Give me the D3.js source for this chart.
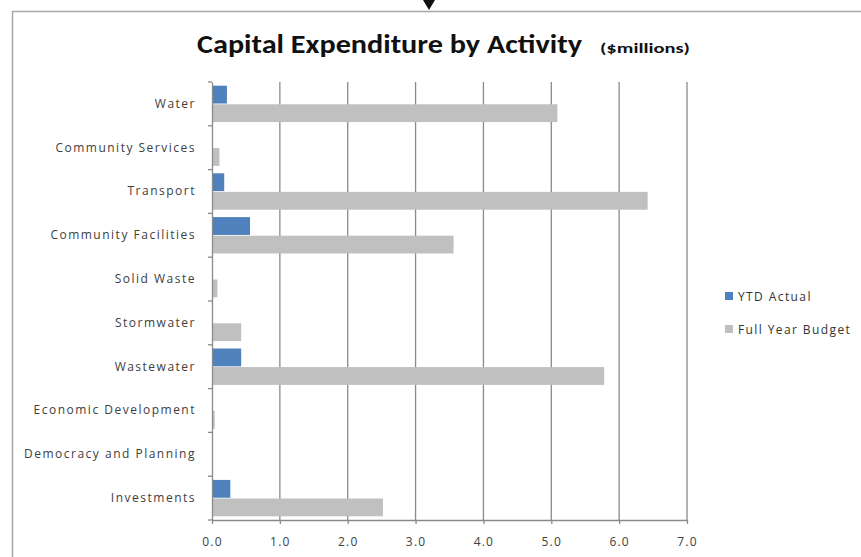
<!DOCTYPE html>
<html><head><meta charset="utf-8">
<script src="https://cdn.jsdelivr.net/npm/d3@7"></script>
<style>
html,body{margin:0;padding:0;background:#fff;}
svg{display:block;}
text{font-family:Carlito,Lato,"Open Sans",sans-serif;}
.lbl{font-family:"Open Sans",Lato,sans-serif;}
</style></head>
<body>
<script>
const categories = ["Water","Community Services","Transport","Community Facilities","Solid Waste","Stormwater","Wastewater","Economic Development","Democracy and Planning","Investments"];
const seriesNames = ["YTD Actual","Full Year Budget"];
const ytdActual = [0.22,0,0.18,0.56,0,0,0.43,0,0,0.27];
const fullYearBudget = [5.09,0.11,6.42,3.56,0.08,0.43,5.78,0.04,0,2.52];
const xTicks = [0,1,2,3,4,5,6,7];
const colors = ["#4F81BD","#C0C0C0"];

const W = 861, H = 557;
const svg = d3.select("body").append("svg").attr("width", W).attr("height", H);

// chart frame
svg.append("path").attr("d", `M12.5,${H} V11.5 H${W}`).attr("fill","none").attr("stroke","#a6a6a6").attr("stroke-width",1.5);
// pointer arrow
svg.append("path").attr("d","M423,0 L435,0 L429,10 Z").attr("fill","#111");

// title
const title = svg.append("text").attr("y",53).attr("fill","#111");
title.append("tspan").attr("x",197).attr("font-size",27).attr("font-weight","bold")
  .attr("textLength",385).attr("lengthAdjust","spacingAndGlyphs").text("Capital Expenditure by Activity");
title.append("tspan").attr("x",600).attr("font-size",14).attr("font-weight","bold")
  .attr("textLength",90).attr("lengthAdjust","spacingAndGlyphs").text("($millions)");

const x = d3.scaleLinear().domain([0,7]).range([212,687]);
const y = d3.scaleBand().domain(categories).range([82,520]).padding(0);
const ys = d3.scaleBand().domain(seriesNames).range([0,y.bandwidth()]).paddingInner(0.04).paddingOuter(0.2);

// gridlines
svg.append("g").selectAll("line").data(xTicks.filter(d=>d>0)).join("line")
  .attr("x1",d=>x(d)).attr("x2",d=>x(d)).attr("y1",82).attr("y2",520)
  .attr("stroke","#8a8a8a").attr("stroke-width",1.3);

// bars
const data = categories.map((c,i)=>({c, vals:[ytdActual[i], fullYearBudget[i]]}));
const g = svg.append("g").selectAll("g").data(data).join("g").attr("transform",d=>`translate(0,${y(d.c)})`);
g.selectAll("rect").data(d=>d.vals.map((v,j)=>({v,j}))).join("rect")
  .attr("x",x(0)).attr("y",d=>ys(seriesNames[d.j])).attr("height",ys.bandwidth())
  .attr("width",d=>x(d.v)-x(0)).attr("fill",d=>colors[d.j]);

// y axis
const yAxis = svg.append("g").attr("transform",`translate(${x(0)},0)`)
  .call(d3.axisLeft(y).tickSize(0).tickPadding(16));
yAxis.select(".domain").attr("stroke","#8a8a8a").attr("stroke-width",1.3);
yAxis.selectAll("text").attr("class","lbl").attr("font-size",12).attr("letter-spacing",1.5).attr("fill","#404040");
// category boundary ticks
const bounds = categories.map(c=>y(c)).concat([y.range()[1]]);
svg.append("g").selectAll("line").data(bounds).join("line")
  .attr("x1",x(0)-4).attr("x2",x(0)).attr("y1",d=>d).attr("y2",d=>d)
  .attr("stroke","#8a8a8a").attr("stroke-width",1.3);

// x axis
const xAxis = svg.append("g").attr("transform","translate(0,520)")
  .call(d3.axisBottom(x).tickValues(xTicks).tickFormat(d3.format(".1f")).tickSizeInner(4).tickSizeOuter(0).tickPadding(13));
xAxis.select(".domain").attr("stroke","#8a8a8a").attr("stroke-width",1.3);
xAxis.selectAll(".tick line").attr("stroke","#8a8a8a").attr("stroke-width",1.3);
xAxis.selectAll("text").attr("class","lbl").attr("font-size",12).attr("letter-spacing",1.2).attr("fill","#404040");

// legend
const leg = svg.append("g").selectAll("g").data(seriesNames).join("g")
  .attr("transform",(d,i)=>`translate(725,${292 + i*33})`);
leg.append("rect").attr("width",8).attr("height",8).attr("fill",(d,i)=>colors[i]);
leg.append("text").attr("class","lbl").attr("x",13).attr("y",9).attr("font-size",12).attr("letter-spacing",1.4).attr("fill","#333").text(d=>d);
</script>
</body></html>
